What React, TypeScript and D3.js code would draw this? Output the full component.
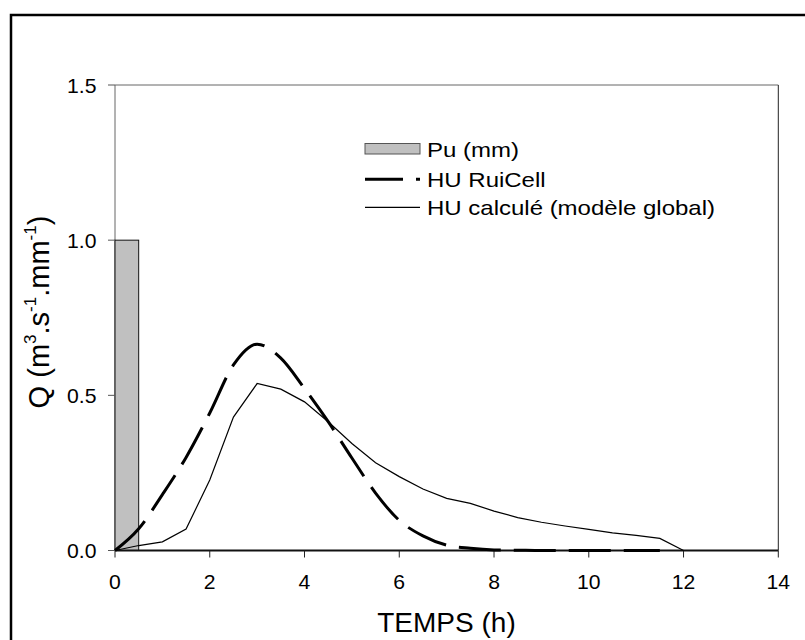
import React from "react";
import * as d3 from "d3";

const xTicks = [0, 2, 4, 6, 8, 10, 12, 14];
const yTicks = [0, 0.5, 1.0, 1.5];
const yTickLabels = ["0.0", "0.5", "1.0", "1.5"];

// Pluie utile (bar)
const puStart = [0];
const puEnd = [0.5];
const puValue = [1.0];

// HU RuiCell (dashed, smooth)
const ruiT = [0, 0.5, 1, 1.5, 2, 2.5, 3, 3.5, 4, 4.5, 5, 5.5, 6, 6.5, 7, 7.5, 8, 8.5, 9, 9.5, 10, 10.5, 11, 11.5];
const ruiQ = [0, 0.07, 0.18, 0.3, 0.443, 0.598, 0.665, 0.62, 0.522, 0.415, 0.298, 0.185, 0.097, 0.047, 0.017, 0.007, 0.002, 0.001, 0, 0, 0, 0, 0, 0];

// HU calculé (modèle global)
const calcT = [0, 0.5, 1, 1.5, 2, 2.5, 3, 3.5, 4, 4.5, 5, 5.5, 6, 6.5, 7, 7.5, 8, 8.5, 9, 9.5, 10, 10.5, 11, 11.5, 12];
const calcQ = [0, 0.016, 0.028, 0.069, 0.227, 0.43, 0.538, 0.52, 0.479, 0.415, 0.345, 0.283, 0.238, 0.198, 0.168, 0.152, 0.127, 0.106, 0.091, 0.079, 0.068, 0.057, 0.049, 0.039, 0];

const legendLabels = ["Pu (mm)", "HU RuiCell", "HU calculé (modèle global)"];

const FONT = "'Liberation Sans', Arial, Helvetica, sans-serif";

export default function App() {
  const x = d3.scaleLinear().domain([0, 14]).range([115, 778.3]);
  const y = d3.scaleLinear().domain([0, 1.5]).range([550.5, 85]);

  const ruiLine = d3
    .line<number>()
    .x((_, i) => x(ruiT[i]))
    .y((d) => y(d))
    .curve(d3.curveMonotoneX)(ruiQ) as string;

  const calcLine = d3
    .line<number>()
    .x((_, i) => x(calcT[i]))
    .y((d) => y(d))(calcQ) as string;

  const x0 = x(0), x1 = x(14), y0 = y(0), y1 = y(1.5);

  return (
    <svg
      width={805}
      height={640}
      style={{ position: "absolute", left: 0, top: 0, background: "#fff" }}
      fontFamily={FONT}
    >
      <rect x={0} y={0} width={805} height={640} fill="#fff" />
      {/* outer frame */}
      <rect x={11} y={15} width={820} height={660} fill="none" stroke="#000" strokeWidth={2.5} />

      {/* plot frame */}
      <line x1={x0} y1={y1} x2={x1} y2={y1} stroke="#666" strokeWidth={1} />
      <line x1={x1} y1={y1} x2={x1} y2={y0} stroke="#222" strokeWidth={1} />
      <line x1={x0} y1={y1} x2={x0} y2={y0} stroke="#666" strokeWidth={1} />

      {/* bar */}
      {puValue.map((v, i) => (
        <rect
          key={i}
          x={x(puStart[i])}
          y={y(v)}
          width={x(puEnd[i]) - x(puStart[i])}
          height={y(0) - y(v)}
          fill="#c0c0c0"
          stroke="#111"
          strokeWidth={1}
        />
      ))}

      {/* x axis */}
      <line x1={x0} y1={y0} x2={x1} y2={y0} stroke="#111" strokeWidth={1.8} />
      {xTicks.map((t) => (
        <g key={t}>
          <line x1={x(t)} y1={y0} x2={x(t)} y2={y0 + 7} stroke="#222" strokeWidth={1} />
          <g transform={`translate(${x(t)},588.5) scale(1.06,1)`}>
            <text textAnchor="middle" fontSize={20} fill="#000">
              {t}
            </text>
          </g>
        </g>
      ))}

      {/* y axis ticks */}
      {yTicks.map((t, i) => (
        <g key={t}>
          <line x1={x0 - 7} y1={y(t)} x2={x0} y2={y(t)} stroke="#555" strokeWidth={1} />
          <g transform={`translate(96.5,${y(t) + 7.5}) scale(1.06,1)`}>
            <text textAnchor="end" fontSize={20} fill="#000">
              {yTickLabels[i]}
            </text>
          </g>
        </g>
      ))}

      {/* series */}
      <path d={calcLine} fill="none" stroke="#000" strokeWidth={1.2} />
      <path d={ruiLine} fill="none" stroke="#000" strokeWidth={3} strokeDasharray="42,13" />

      {/* legend */}
      <rect x={365} y={143.5} width={55} height={10.5} fill="#c0c0c0" stroke="#555" strokeWidth={1} />
      <line x1={365} y1={179.3} x2={420} y2={179.3} stroke="#000" strokeWidth={3} strokeDasharray="38,13" />
      <line x1={365} y1={207.3} x2={420} y2={207.3} stroke="#000" strokeWidth={1.2} />
      {legendLabels.map((l, i) => (
        <g key={l} transform={`translate(427,${[157.3, 186.5, 215.2][i]}) scale(1.2,1)`}>
          <text fontSize={20} fill="#000">
            {l}
          </text>
        </g>
      ))}

      {/* axis titles */}
      <text x={446.5} y={632} textAnchor="middle" fontSize={28} fill="#000">
        TEMPS (h)
      </text>
      <text transform="translate(49,312) rotate(-90)" textAnchor="middle" fontSize={29} fill="#000">
        Q (m
        <tspan fontSize={17} dy={-13}>3</tspan>
        <tspan dy={13}>.s</tspan>
        <tspan fontSize={17} dy={-13}>-1</tspan>
        <tspan dy={13}>.mm</tspan>
        <tspan fontSize={17} dy={-13}>-1</tspan>
        <tspan dy={13}>)</tspan>
      </text>
    </svg>
  );
}
